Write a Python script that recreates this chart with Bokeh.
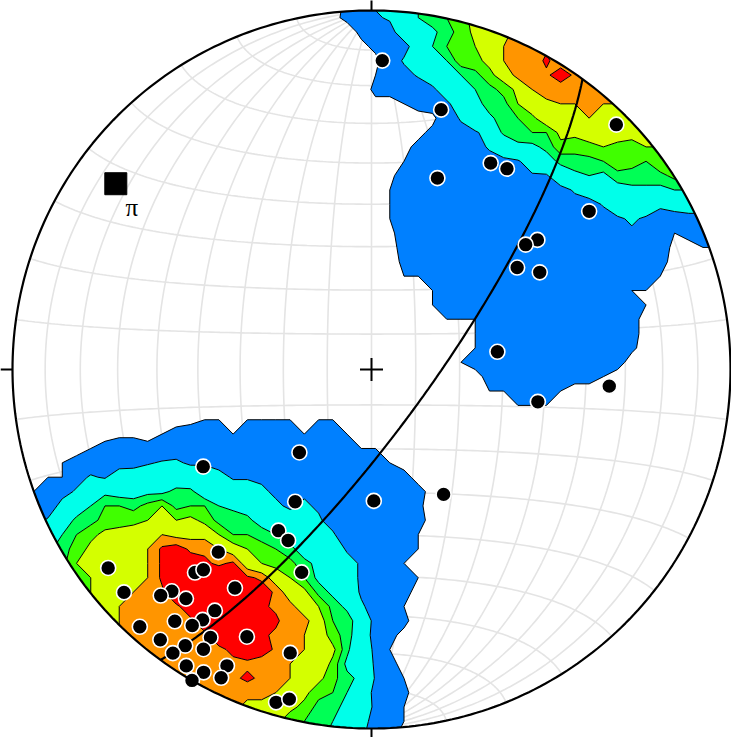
import numpy as np
from bokeh.plotting import figure
from bokeh.embed import file_html
from bokeh.resources import INLINE
from bokeh.core.properties import value

# ---------------- data: poles (lower hemisphere, degrees) ----------------
pole_trend = [2, 15, 19, 30, 34, 45, 54, 52, 51, 55, 60, 82, 101, 94, 150, 179,
              221, 240, 210, 210, 206, 199, 220, 233, 228, 221, 220, 222, 223, 219,
              212, 213, 214, 218, 215, 222, 218, 211, 205, 214, 211, 215, 196, 212,
              206, 209, 206, 210, 196, 194]
pole_plunge = [15, 26, 43, 34, 33, 4, 26, 41, 44, 49, 45, 61, 51, 34, 57, 60,
               65, 45, 55, 47, 46, 40, 34, 9, 8, 26, 28, 18, 15, 19,
               29, 21, 17, 12, 14, 4, 5, 14, 19, 8, 10, 4, 19, 3,
               9, 4, 5, 0, 4, 6]
pi_axis_trend = [306]
pi_axis_plunge = [13]
pi_label = ["π"]

# Kamb counts contoured at these levels
contour_levels = [6, 11.5, 18, 21, 24, 28, 30.5]
band_colors = ["#0080FF", "#00FFEA", "#00FF55", "#40FF00", "#D4FF00", "#FF9500", "#FF0000"]
grid_lon = [-80, -70, -60, -50, -40, -30, -20, -10, 0, 10, 20, 30, 40, 50, 60, 70, 80]
grid_lat = [-78, -68, -58, -48, -38, -28, -18, -8, 8, 18, 28, 38, 48, 58, 68, 78]


def to_vec(trend, plunge):
    t = np.radians(np.asarray(trend, float))
    p = np.radians(np.asarray(plunge, float))
    return np.cos(p) * np.sin(t), np.cos(p) * np.cos(t), np.sin(p)


def project(e, n, d):
    s = np.sqrt(1.0 + d)
    return e / s, n / s


# ---------------- figure geometry ----------------
W, H = 731, 737
R = 359.0
cx_px, cy_px = 371.0, 369.0
x0, x1 = -cx_px / R, (W - cx_px) / R
y0, y1 = -(H - cy_px) / R, cy_px / R
p = figure(width=W, height=H, output_backend="svg", toolbar_location=None,
           x_range=(x0, x1), y_range=(y0, y1), min_border=0)
p.axis.visible = False
p.xgrid.visible = False
p.ygrid.visible = False
p.outline_line_color = None
p.background_fill_color = "white"
p.border_fill_color = "white"

# ---------------- net grid ----------------
grid_col = "#e4e4e4"
tt = np.linspace(0, np.pi, 181)
for lon in grid_lon:
    a = np.radians(lon)
    e = np.sin(tt) * np.sin(a)
    n = np.cos(tt)
    d = np.sin(tt) * np.cos(a)
    x, y = project(e, n, d)
    p.line(x, y, line_color=grid_col, line_width=1.6)
for lat in grid_lat:
    a = np.radians(90 - abs(lat))
    sgn = 1 if lat > 0 else -1
    e = np.sin(a) * np.cos(tt)
    n = sgn * np.cos(a) * np.ones_like(tt)
    d = np.sin(a) * np.sin(tt)
    x, y = project(e, n, d)
    p.line(x, y, line_color=grid_col, line_width=1.6)

# ---------------- density (Kamb counting, nodes outside clamped to primitive) ----------------
pe, pn, pd = to_vec(pole_trend, pole_plunge)
P = np.stack([pe, pn, pd], axis=1)
N = len(pole_trend)
gxv = np.linspace(max(x0, -1.02), min(x1, 1.02), 52)
gyv = np.linspace(max(y0, -1.02), min(y1, 1.02), 52)
GX, GY = np.meshgrid(gxv, gyv)
rr = np.sqrt(GX ** 2 + GY ** 2)
fac = np.where(rr > 1.0, 1.0 / np.maximum(rr, 1e-9), 1.0)
EX, EY = GX * fac, GY * fac
r2 = EX ** 2 + EY ** 2
s = np.sqrt(np.clip(2.0 - r2, 0, None))
G = np.stack([EX * s, EY * s, np.clip(1.0 - r2, 0, 1)], axis=-1)
cosd = np.abs(G @ P.T)
area = 9.0 / (N + 9.0)
counts = (cosd >= 1.0 - area).sum(axis=-1).astype(float)
levels = list(contour_levels) + [max(counts.max(), contour_levels[-1]) + 1]
p.contour(GX, GY, counts, levels, fill_color=band_colors, line_color="black", line_width=1)

# mask outside primitive
th = np.linspace(0, 2 * np.pi, 361)
p.multi_polygons(xs=[[[[-3, 3, 3, -3], list(np.cos(th))]]],
                 ys=[[[[-3, -3, 3, 3], list(np.sin(th))]]],
                 fill_color="white", line_color=None)

# ---------------- great circle (pi-girdle) ----------------
pt = np.radians(pi_axis_trend[0])
pp = np.radians(pi_axis_plunge[0])
pv = np.array([np.cos(pp) * np.sin(pt), np.cos(pp) * np.cos(pt), np.sin(pp)])
sv = np.array([np.sin(pt + np.pi / 2), np.cos(pt + np.pi / 2), 0.0])
wv = np.cross(pv, sv)
if wv[2] < 0:
    wv = -wv
vv = np.outer(np.cos(tt), sv) + np.outer(np.sin(tt), wv)
gx_, gy_ = project(vv[:, 0], vv[:, 1], vv[:, 2])
p.line(gx_, gy_, line_color="black", line_width=2.2)

# ---------------- poles ----------------
px_, py_ = project(pe, pn, pd)
p.scatter(px_, py_, size=15, fill_color="black", line_color="white", line_width=1.6)

# pi axis
ax_e, ax_n, ax_d = to_vec(pi_axis_trend, pi_axis_plunge)
ax_x, ax_y = project(ax_e, ax_n, ax_d)
p.scatter(ax_x, ax_y, marker="square", size=22, fill_color="black", line_color="black")
p.text(ax_x, ax_y, text=pi_label, x_offset=16, y_offset=24, text_align="center",
       text_baseline="middle", text_font=value("Liberation Serif"), text_font_size="25px",
       text_color="black")

# ---------------- primitive, ticks, centre cross ----------------
p.line(np.cos(th), np.sin(th), line_color="black", line_width=2.2)
L = 12 / R
c = 11.5 / R
p.segment(x0=[0, 0, -1, 1, -c, 0], y0=[1, -1, 0, 0, 0, -c],
          x1=[0, 0, -1 - L, 1 + L, c, 0], y1=[1 + L, -1 - L, 0, 0, 0, c],
          line_color="black", line_width=2)

open("out.html", "w").write(file_html(p, INLINE))
